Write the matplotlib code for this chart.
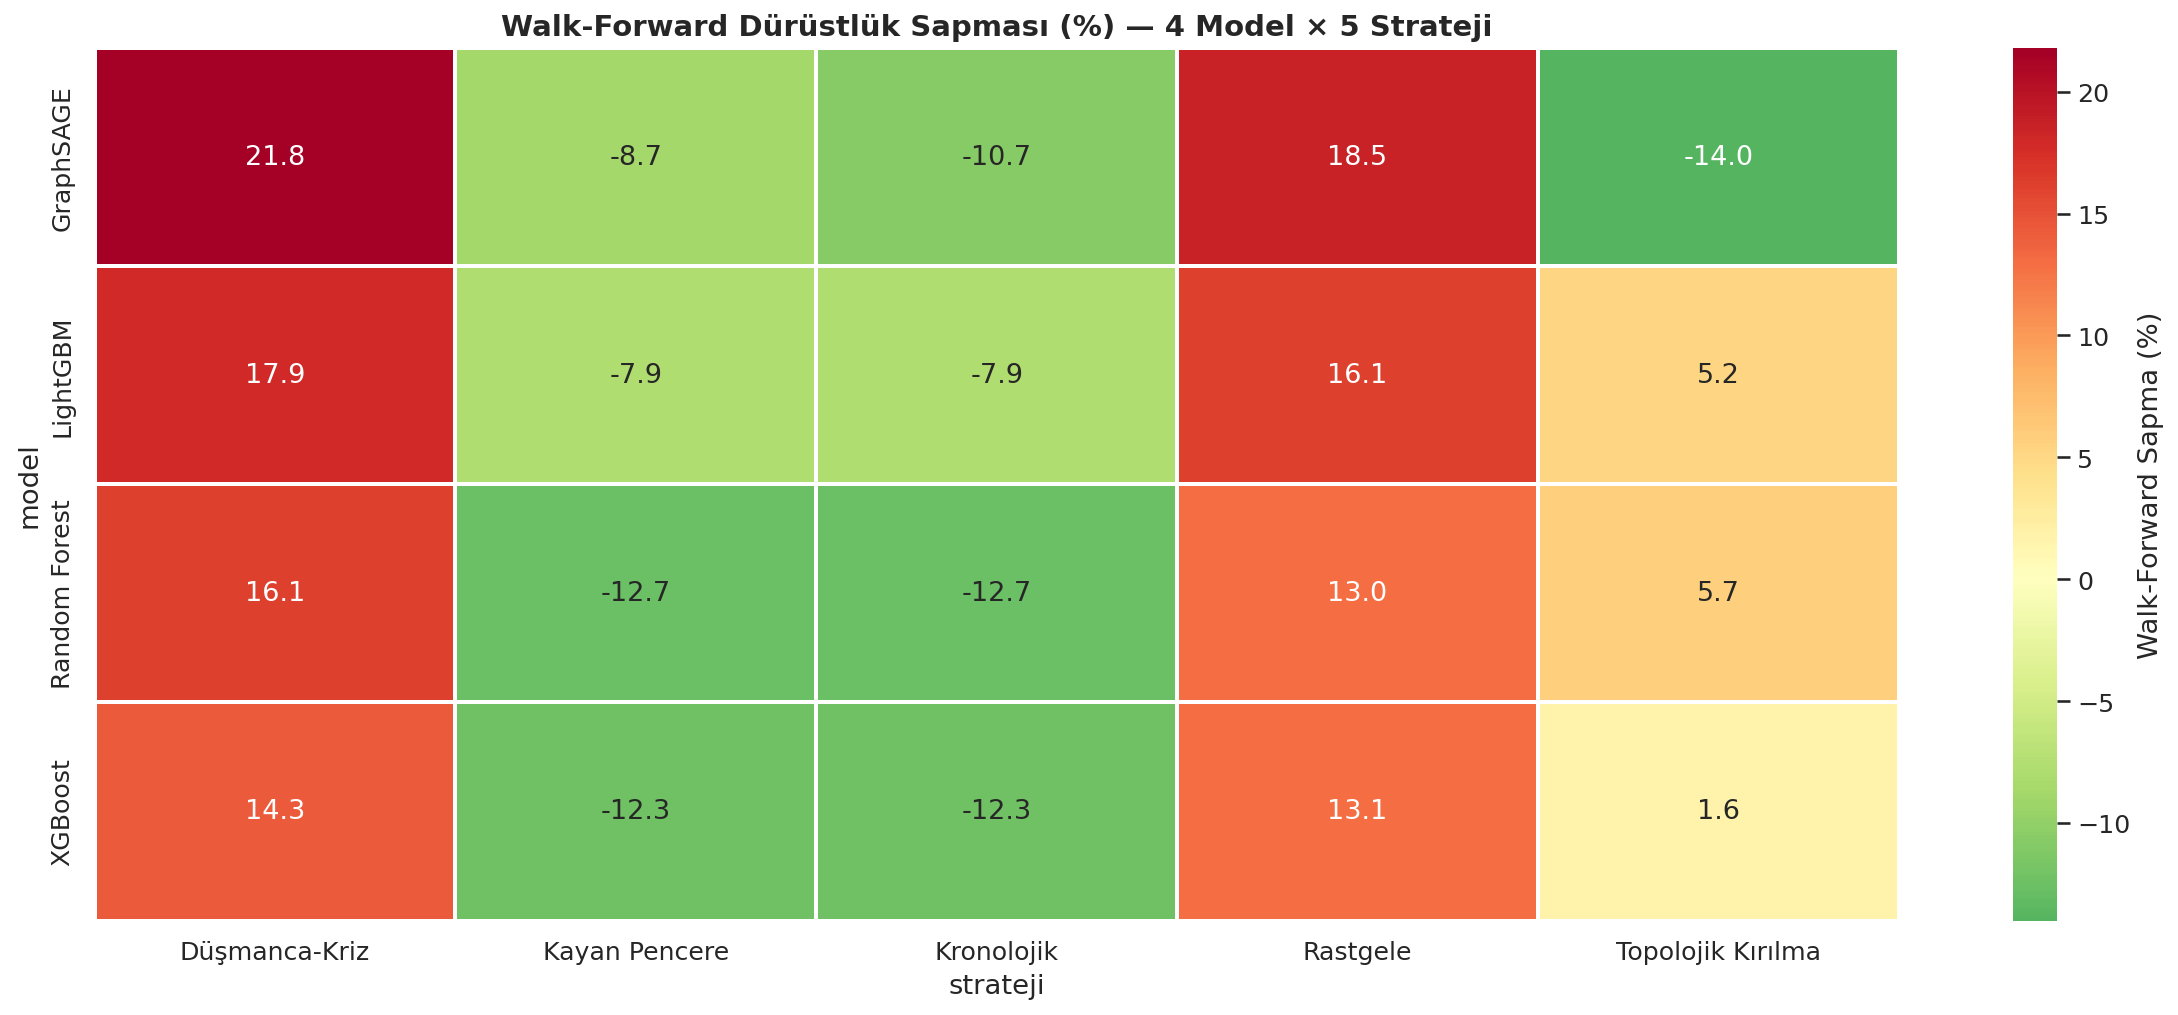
import matplotlib
matplotlib.use("Agg")
import matplotlib.pyplot as plt
import numpy as np
import pandas as pd
import seaborn as sns

# ── Data ─────────────────────────────────────────────────────────────────────
models     = ["GraphSAGE", "LightGBM", "Random Forest", "XGBoost"]
strategies = ["Düşmanca-Kriz", "Kayan Pencere", "Kronolojik", "Rastgele", "Topolojik Kırılma"]

graphsage = [21.8, -8.7, -10.7, 18.5, -14.0]
lightgbm  = [17.9, -7.9, -7.9, 16.1, 5.2]
rf        = [16.1, -12.7, -12.7, 13.0, 5.7]
xgboost   = [14.3, -12.3, -12.3, 13.1, 1.6]
# ─────────────────────────────────────────────────────────────────────────────

df = pd.DataFrame([graphsage, lightgbm, rf, xgboost], index=models, columns=strategies)
df.index.name = "model"
df.columns.name = "strateji"

sns.set_theme(style="white", font_scale=1.1)

fig = plt.figure(figsize=(14.52, 6.773), dpi=150)
ax = fig.add_axes([0.0434, 0.093, 0.8284, 0.859])
cax = fig.add_axes([0.9241, 0.093, 0.0204, 0.859])

sns.heatmap(df, annot=True, fmt=".1f", cmap="RdYlGn_r", center=0,
            linewidths=1, linecolor="white", ax=ax, cbar_ax=cax,
            annot_kws={"fontsize": 13},
            cbar_kws={"label": "Walk-Forward Sapma (%)"})
ax.set_title("Walk-Forward Dürüstlük Sapması (%) — 4 Model × 5 Strateji",
             fontsize=14, fontweight="bold")

fig.savefig("out.png", dpi=150)
